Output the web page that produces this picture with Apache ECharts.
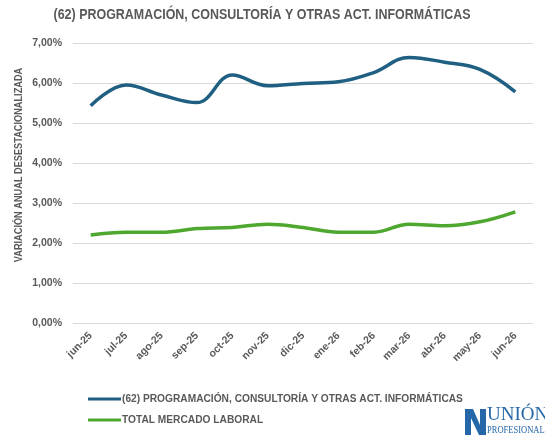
<!DOCTYPE html>
<html>
<head>
<meta charset="utf-8">
<script src="https://cdn.jsdelivr.net/npm/echarts@6/dist/echarts.min.js"></script>
<style>
  html, body { margin: 0; padding: 0; background: #fff; }
  #chart { width: 545px; height: 437px; }
</style>
</head>
<body>
<div id="chart"></div>
<script>
var months = ['jun-25', 'jul-25', 'ago-25', 'sep-25', 'oct-25', 'nov-25', 'dic-25',
  'ene-26', 'feb-26', 'mar-26', 'abr-26', 'may-26', 'jun-26'];
var informatica = [5.43, 5.95, 5.70, 5.51, 6.20, 5.93, 5.99, 6.03, 6.26, 6.64, 6.52, 6.34, 5.78];
var totalMercado = [2.20, 2.27, 2.27, 2.36, 2.39, 2.47, 2.39, 2.27, 2.27, 2.47, 2.43, 2.53, 2.78];
var nameInf = '(62) PROGRAMACIÓN, CONSULTORÍA Y OTRAS ACT. INFORMÁTICAS';
var nameTotal = 'TOTAL MERCADO LABORAL';
var yName = 'VARIACIÓN ANUAL DESESTACIONALIZADA';

var font = '"Liberation Sans", Arial, sans-serif';
var grey = '#595959';
var blue = '#1f5f82';
var green = '#4ea72e';
var logoBlue = '#2567a8';

var myChart = echarts.init(document.getElementById('chart'));
var option = {
  animation: false,
  legend: {
    orient: 'vertical',
    left: 83,
    top: 389,
    itemWidth: 33,
    itemHeight: 3,
    itemGap: 11,
    textStyle: { fontFamily: font, fontSize: 10.2, fontWeight: 'bold', color: grey, padding: [0, 0, 0, -4] },
    data: [
      { name: nameInf, icon: 'rect', itemStyle: { color: blue } },
      { name: nameTotal, icon: 'rect', itemStyle: { color: green } }
    ]
  },
  grid: { left: 73, right: 12, top: 43, bottom: 114 },
  xAxis: {
    type: 'category',
    data: months,
    boundaryGap: true,
    axisLine: { show: false },
    axisTick: { show: false },
    axisLabel: {
      rotate: 45, interval: 0, margin: 11,
      fontFamily: font, fontSize: 10.5, fontWeight: 'bold', color: grey
    }
  },
  yAxis: {
    type: 'value',
    min: 0, max: 7, interval: 1,
    axisLine: { show: false },
    axisTick: { show: false },
    axisLabel: {
      margin: 11,
      fontFamily: font, fontSize: 10.5, fontWeight: 'bold', color: grey,
      formatter: function (v) { return v.toFixed(2).replace('.', ',') + '%'; }
    },
    splitLine: { lineStyle: { color: '#d9d9d9', width: 1 } }
  },
  graphic: [
    // title and axis name, squeezed to look like the narrow font of the original
    {
      type: 'text', x: 262, y: 15, scaleX: 0.89,
      style: { text: nameInf, font: 'bold 14px ' + font, fill: grey, align: 'center', verticalAlign: 'middle' }
    },
    {
      type: 'text', x: 19, y: 165, rotation: Math.PI / 2, scaleX: 0.8,
      style: { text: yName, font: 'bold 11.5px ' + font, fill: grey, align: 'center', verticalAlign: 'middle' }
    },
    // logo
    {
      type: 'polygon',
      shape: { points: [[465, 409], [473, 409], [480, 425], [480, 409], [486, 409], [486, 435], [479, 435], [471, 418], [471, 435], [465, 435]] },
      style: { fill: logoBlue }
    },
    {
      type: 'text', x: 487, y: 425,
      style: { text: 'UNIÓN', font: '19px "Liberation Serif", serif', fill: logoBlue, align: 'left', verticalAlign: 'bottom' }
    },
    {
      type: 'text', x: 487, y: 425, scaleX: 0.85,
      style: { text: 'PROFESIONAL', font: '10px "Liberation Serif", serif', fill: logoBlue, align: 'left', verticalAlign: 'top' }
    }
  ],
  series: [
    {
      name: nameInf, type: 'line', data: informatica,
      smooth: 0.4, symbol: 'none',
      lineStyle: { color: blue, width: 3.5 },
      itemStyle: { color: blue }
    },
    {
      name: nameTotal, type: 'line', data: totalMercado,
      smooth: 0.4, symbol: 'none',
      lineStyle: { color: green, width: 3.5 },
      itemStyle: { color: green }
    }
  ]
};
myChart.setOption(option);
</script>
</body>
</html>
